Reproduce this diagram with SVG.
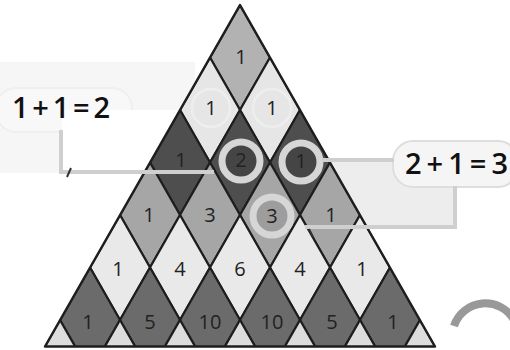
<svg xmlns="http://www.w3.org/2000/svg" width="510" height="350" viewBox="0 0 510 350">
<style>
.r{stroke:#1e1e1e;stroke-width:2.2;stroke-linejoin:round}
.a{fill:#b2b2b2}.b{fill:#e6e6e6}.c{fill:#4e4e4e}.d{fill:#a6a6a6}.e{fill:#e9e9e9}.f{fill:#6b6b6b}.g{fill:#dcdcdc}
.n{font-family:"Open Sans","DejaVu Sans",sans-serif;font-size:20px;fill:#222;text-anchor:middle}
.h{font-family:"Open Sans","DejaVu Sans",sans-serif;font-weight:600;font-size:29px;fill:#111}
.ring{stroke:#d6d6d6;stroke-width:7}
.ln{fill:none;stroke:#cfcfcf;stroke-width:4;stroke-linecap:butt}
</style>
<defs>
<clipPath id="tri"><polygon points="240,5 435,346.5 45,346.5"/></clipPath>
</defs>
<rect width="510" height="350" fill="#fff"/>
<g id="paper">
<rect x="0" y="62" width="195" height="111" fill="#f6f6f6"/>
<rect x="-4" y="88" width="136" height="44" rx="20" fill="#f8f8f8" stroke="#efefef" stroke-width="2"/>
<rect x="62" y="110" width="130" height="60" fill="#fff"/>
<rect x="320" y="160" width="135" height="68" fill="#ededed"/>
<rect x="393" y="141" width="125" height="46" rx="20" fill="#f5f5f5" stroke="#dedede" stroke-width="2"/>
</g>
<g id="triangle" clip-path="url(#tri)">
<g id="row0"><path class="r a" d="M240,5L270,57.5L240,110L210,57.5Z"/></g>
<g id="row1">
<path class="r b" d="M210,57.5L240,110L210,162.5L180,110Z"/>
<path class="r b" d="M270,57.5L300,110L270,162.5L240,110Z"/>
</g>
<g id="row2">
<path class="r c" d="M180,110L210,162.5L180,215L150,162.5Z"/>
<path class="r c" d="M240,110L270,162.5L240,215L210,162.5Z"/>
<path class="r c" d="M300,110L330,162.5L300,215L270,162.5Z"/>
</g>
<g id="row3">
<path class="r d" d="M150,162.5L180,215L150,267.5L120,215Z"/>
<path class="r d" d="M210,162.5L240,215L210,267.5L180,215Z"/>
<path class="r d" d="M270,162.5L300,215L270,267.5L240,215Z"/>
<path class="r d" d="M330,162.5L360,215L330,267.5L300,215Z"/>
</g>
<g id="row4">
<path class="r e" d="M120,215L150,267.5L120,320L90,267.5Z"/>
<path class="r e" d="M180,215L210,267.5L180,320L150,267.5Z"/>
<path class="r e" d="M240,215L270,267.5L240,320L210,267.5Z"/>
<path class="r e" d="M300,215L330,267.5L300,320L270,267.5Z"/>
<path class="r e" d="M360,215L390,267.5L360,320L330,267.5Z"/>
</g>
<g id="row5">
<path class="r f" d="M90,267.5L120,320L90,372.5L60,320Z"/>
<path class="r f" d="M150,267.5L180,320L150,372.5L120,320Z"/>
<path class="r f" d="M210,267.5L240,320L210,372.5L180,320Z"/>
<path class="r f" d="M270,267.5L300,320L270,372.5L240,320Z"/>
<path class="r f" d="M330,267.5L360,320L330,372.5L300,320Z"/>
<path class="r f" d="M390,267.5L420,320L390,372.5L360,320Z"/>
</g>
<g id="row6">
<path class="r g" d="M60,320L90,372.5L30,372.5Z"/>
<path class="r g" d="M120,320L150,372.5L90,372.5Z"/>
<path class="r g" d="M180,320L210,372.5L150,372.5Z"/>
<path class="r g" d="M240,320L270,372.5L210,372.5Z"/>
<path class="r g" d="M300,320L330,372.5L270,372.5Z"/>
<path class="r g" d="M360,320L390,372.5L330,372.5Z"/>
<path class="r g" d="M420,320L450,372.5L390,372.5Z"/>
</g>
</g>
<polygon id="outline" points="240,5 435,346.5 45,346.5" fill="none" stroke="#1e1e1e" stroke-width="2.5" stroke-linejoin="round"/>
<g id="highlights">
<circle cx="211" cy="108" r="19" fill="none" stroke="#eeeeee" stroke-width="2.5"/>
<circle cx="272" cy="108" r="19" fill="none" stroke="#eeeeee" stroke-width="2.5"/>
<circle id="c2" class="ring" cx="241" cy="161" r="19" fill="#454545"/>
<circle id="c1" class="ring" cx="301" cy="162" r="19" fill="#454545"/>
<circle id="c3" class="ring" cx="272" cy="216" r="19" fill="#9d9d9d"/>
</g>
<g id="connectors">
<path class="ln" d="M61,130V172H214"/>
<path class="ln" d="M322,160H394"/>
<path class="ln" d="M455,186V227H305"/>
<path d="M67,177L71,168" stroke="#333" stroke-width="2" fill="none"/>
<path d="M309,229L313,237" stroke="#333" stroke-width="2" fill="none"/>
</g>
<g id="numbers">
<text class="n" x="241" y="64">1</text>
<text class="n" x="211" y="115">1</text>
<text class="n" x="272" y="115">1</text>
<text class="n" x="181" y="167">1</text>
<text class="n" x="241" y="167" fill="#1a1a1a">2</text>
<text class="n" x="301" y="168" fill="#1a1a1a">1</text>
<text class="n" x="149" y="222">1</text>
<text class="n" x="210" y="222">3</text>
<text class="n" x="272" y="223">3</text>
<text class="n" x="331" y="222">1</text>
<text class="n" x="118" y="276">1</text>
<text class="n" x="180" y="276">4</text>
<text class="n" x="240" y="276">6</text>
<text class="n" x="300" y="276">4</text>
<text class="n" x="362" y="276">1</text>
<text class="n" x="88" y="329">1</text>
<text class="n" x="150" y="329">5</text>
<text class="n" x="210" y="329">10</text>
<text class="n" x="272" y="329">10</text>
<text class="n" x="332" y="329">5</text>
<text class="n" x="393" y="329">1</text>
</g>
<g id="callout-left"><text class="h" x="12" y="118" textLength="98" lengthAdjust="spacing">1+1=2</text></g>
<g id="callout-right"><text class="h" x="405" y="174" textLength="103" lengthAdjust="spacing">2+1=3</text></g>
<path id="arc" d="M454,326A33,33 0 0 1 514,320" fill="none" stroke="#999" stroke-width="8"/>
</svg>
